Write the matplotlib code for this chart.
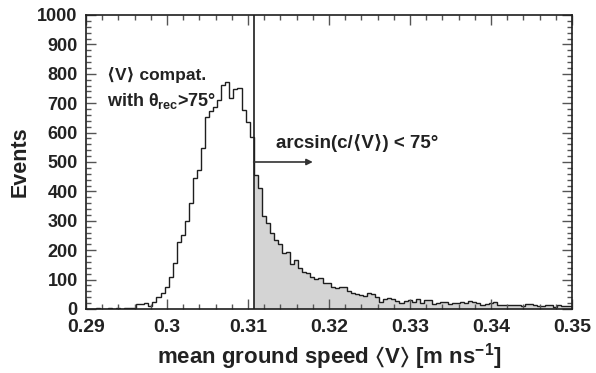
import matplotlib
matplotlib.use("Agg")
import matplotlib.pyplot as plt
import numpy as np
from matplotlib.ticker import MultipleLocator, FuncFormatter


# -----
# DATA
# -----
bin_start = 0.2902
bin_width = 0.0005
cut_speed = 0.3107
arrow_end = 0.318
arrow_level = 500

# events per bin, left part (below the cut)
counts_low = [
    0, 0, 2, 0, 1, 3, 1, 5, 1, 3, 2, 5, 16, 16, 19,
    11, 24, 40, 53, 74, 110, 158, 227, 250, 300, 360, 445, 473, 548, 654,
    672, 688, 712, 762, 773, 717, 747, 751, 677, 637, 586,
]

# events per bin, right part (above the cut, shaded)
counts_high = [
    456, 410, 316, 294, 257, 235, 221, 192, 195, 153,
    167, 138, 127, 121, 110, 101, 104, 87, 90, 74,
    70, 74, 76, 62, 55, 51, 48, 44, 53, 51,
    40, 25, 33, 38, 33, 28, 22, 27,
    30, 25, 33, 22, 30, 29, 18, 22, 25, 24,
    18, 20, 22, 25, 22, 28, 24, 20, 15, 18,
    22, 25, 15, 13, 12, 15, 14, 12, 10, 17,
    18, 12, 10, 11, 14, 13, 8, 12, 10, 11, 9,
]

counts = np.array(counts_low + counts_high, dtype=float)
edges = bin_start + bin_width * np.arange(len(counts) + 1)
n_low = len(counts_low)

# ------
# STYLE
# ------
plt.rcParams["font.family"] = ["Liberation Sans", "DejaVu Sans"]
plt.rcParams["font.weight"] = "bold"
plt.rcParams["mathtext.fontset"] = "custom"
plt.rcParams["mathtext.rm"] = "Liberation Sans:bold"
plt.rcParams["mathtext.it"] = "Liberation Sans:bold"
plt.rcParams["mathtext.bf"] = "Liberation Sans:bold"
plt.rcParams["mathtext.fallback"] = "stixsans"

fig = plt.figure(figsize=(5.96, 3.73), dpi=100)
ax = fig.add_axes([0.1443, 0.1716, 0.8154, 0.7882])

line_color = "#1e1e1e"
text_color = "#222222"

# shaded part above the cut
ax.stairs(counts[n_low:], edges[n_low:], fill=True, color="#d4d4d4", linewidth=0)
# full histogram outline
ax.stairs(counts, edges, color=line_color, linewidth=1.0)

# cut line and arrow
ax.axvline(cut_speed, color=line_color, linewidth=1.2)
ax.annotate(
    "", xy=(arrow_end, arrow_level), xytext=(cut_speed, arrow_level),
    arrowprops=dict(arrowstyle="-|>", color="#333333", lw=1.2,
                    mutation_scale=9, shrinkA=0, shrinkB=0),
)

ax.text(0.2926, 796, "⟨V⟩ compat.", fontsize=12.5, fontweight="bold", va="center",
        color=text_color)
ax.text(0.2926, 707, "with θ$_{rec}$>75°", fontsize=13, fontweight="bold", va="center",
        color=text_color)
ax.text(0.3135, 565, "arcsin(c/⟨V⟩) < 75°", fontsize=13.5, fontweight="bold", va="center",
        color=text_color)

ax.set_xlim(0.29, 0.35)
ax.set_ylim(0, 1000)

ax.xaxis.set_major_locator(MultipleLocator(0.01))
ax.xaxis.set_minor_locator(MultipleLocator(0.002))
ax.yaxis.set_major_locator(MultipleLocator(100))
ax.yaxis.set_minor_locator(MultipleLocator(20))
ax.xaxis.set_major_formatter(FuncFormatter(lambda v, p: f"{v:g}"))
ax.yaxis.set_major_formatter(FuncFormatter(lambda v, p: f"{v:.0f}"))

ax.tick_params(which="both", direction="in", top=True, right=True, color="#555555")
ax.tick_params(which="major", length=7, width=1.0)
ax.tick_params(which="minor", length=3.5, width=1.0)
ax.tick_params(axis="x", which="major", labelsize=14, pad=7, labelcolor=text_color)
ax.tick_params(axis="y", which="major", labelsize=13, pad=6, labelcolor=text_color)

for spine in ax.spines.values():
    spine.set_linewidth(1.2)
    spine.set_color(line_color)

ax.set_xlabel(r"mean ground speed $\langle$V$\rangle$ [m ns$^{-1}$]", fontsize=16,
              fontweight="bold", color=text_color, labelpad=4)
ax.set_ylabel("Events", fontsize=15.5, fontweight="bold", color=text_color, labelpad=5)

fig.savefig("out.png", dpi=100)
plt.close()
